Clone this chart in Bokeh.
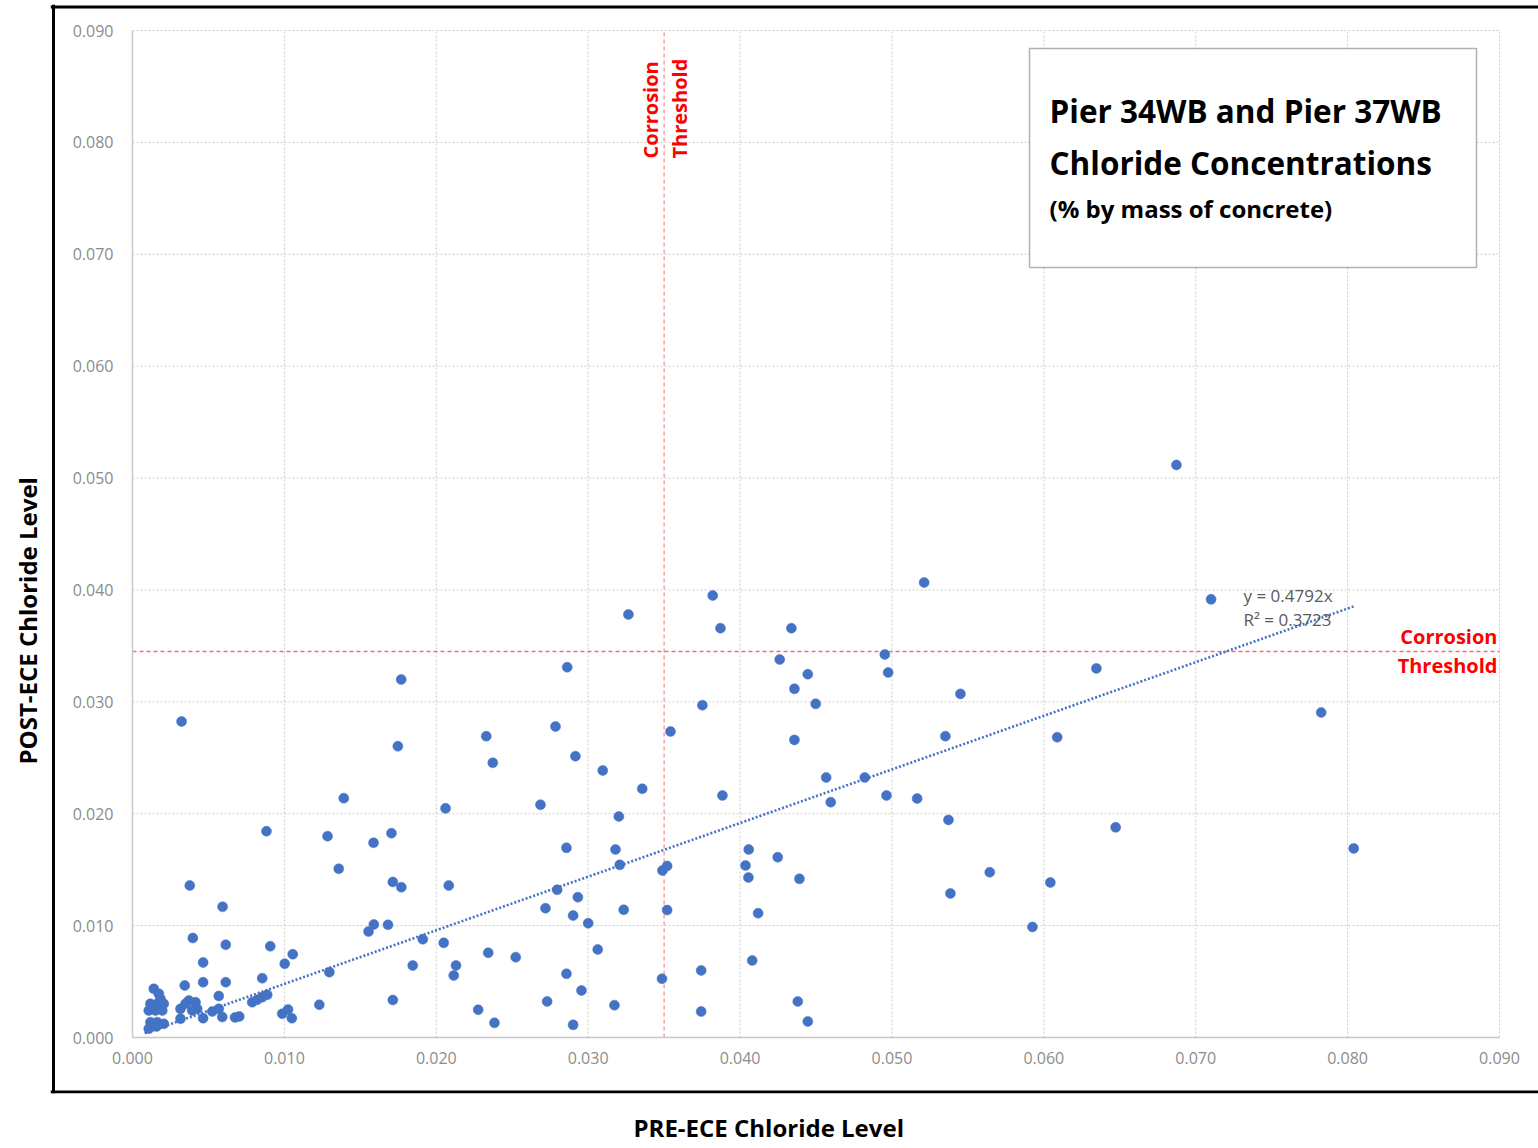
import math
from bokeh.plotting import figure
from bokeh.models import (Range1d, FixedTicker, NumeralTickFormatter, Span, Label, Title,
                          BoxAnnotation, ColumnDataSource, LinearAxis)
from bokeh.embed import file_html
from bokeh.resources import INLINE

# ---------------- data ----------------
pre_ece = [
    0.00140, 0.00173, 0.00184, 0.00118, 0.00163, 0.00206, 0.00107, 0.00151, 0.00196, 0.00118,
    0.00163, 0.00206, 0.00107, 0.00158,
    0.00323, 0.00377, 0.00397, 0.00344, 0.00349, 0.00371, 0.00415, 0.00426, 0.00316, 0.00393,
    0.00316, 0.00465, 0.00465, 0.00465, 0.00593, 0.00614, 0.00614, 0.00568, 0.00525, 0.00568,
    0.00591, 0.00675, 0.00703, 0.00788, 0.00821, 0.00854, 0.00887, 0.00854, 0.00882, 0.00907,
    0.01055, 0.01002, 0.00986, 0.01024, 0.01049, 0.01230, 0.01284, 0.01296, 0.01358, 0.01391,
    0.01554, 0.01589, 0.01587, 0.01682, 0.01705, 0.01714, 0.01714, 0.01747, 0.01769, 0.01770,
    0.01845, 0.01911, 0.02049, 0.02061, 0.02082, 0.02115, 0.02130, 0.02276, 0.02329, 0.02342,
    0.02372, 0.02383, 0.02523, 0.02686, 0.02719, 0.02730, 0.02785, 0.02796, 0.02862, 0.02857,
    0.02857, 0.02901, 0.02901, 0.02916, 0.02932, 0.02956, 0.03000, 0.03063, 0.03096, 0.03173,
    0.03180, 0.03202, 0.03208, 0.03234, 0.03265, 0.03356, 0.03486, 0.03489, 0.03520, 0.03520,
    0.03542, 0.03744, 0.03744, 0.03752, 0.03820, 0.03871, 0.03884, 0.04036, 0.04057, 0.04055,
    0.04080, 0.04119, 0.04248, 0.04261, 0.04338, 0.04358, 0.04358, 0.04380, 0.04391, 0.04446,
    0.04446, 0.04498, 0.04567, 0.04597, 0.04821, 0.04953, 0.04975, 0.04964, 0.05166, 0.05212,
    0.05352, 0.05372, 0.05385, 0.05451, 0.05644, 0.05925, 0.06043, 0.06088, 0.06346, 0.06473,
    0.06873, 0.07101, 0.07826, 0.08040,
]
post_ece = [
    0.00435, 0.00391, 0.00346, 0.00301, 0.00301, 0.00301, 0.00241, 0.00241, 0.00241, 0.00137,
    0.00137, 0.00122, 0.00078, 0.00098,
    0.02824, 0.01358, 0.00889, 0.00465, 0.00301, 0.00331, 0.00315, 0.00256, 0.00256, 0.00241,
    0.00167, 0.00172, 0.00494, 0.00670, 0.01168, 0.00829, 0.00494, 0.00371, 0.00232, 0.00256,
    0.00183, 0.00179, 0.00188, 0.00315, 0.00337, 0.00360, 0.00382, 0.00530, 0.01844, 0.00815,
    0.00744, 0.00659, 0.00212, 0.00250, 0.00172, 0.00293, 0.01799, 0.00584, 0.01508, 0.02139,
    0.00947, 0.01010, 0.01740, 0.01007, 0.01826, 0.01390, 0.00335, 0.02603, 0.03199, 0.01343,
    0.00643, 0.00878, 0.00846, 0.02048, 0.01358, 0.00554, 0.00643, 0.00248, 0.02693, 0.00757,
    0.02455, 0.00131, 0.00718, 0.02080, 0.01155, 0.00322, 0.02779, 0.01320, 0.03309, 0.01695,
    0.00569, 0.01090, 0.00113, 0.02514, 0.01254, 0.00420, 0.01021, 0.00786, 0.02386, 0.00289,
    0.01680, 0.01975, 0.01543, 0.01141, 0.03780, 0.02223, 0.00525, 0.01492, 0.01533, 0.01139,
    0.02735, 0.00599, 0.00232, 0.02970, 0.03950, 0.03658, 0.02163, 0.01537, 0.01680, 0.01430,
    0.00688, 0.01111, 0.01611, 0.03378, 0.03658, 0.03116, 0.02660, 0.00322, 0.01418, 0.03247,
    0.00143, 0.02982, 0.02324, 0.02103, 0.02324, 0.03423, 0.03262, 0.02163, 0.02136, 0.04066,
    0.02693, 0.01945, 0.01287, 0.03071, 0.01477, 0.00988, 0.01385, 0.02683, 0.03299, 0.01878,
    0.05117, 0.03916, 0.02905, 0.01690,
]
tick_values = [0.0, 0.01, 0.02, 0.03, 0.04, 0.05, 0.06, 0.07, 0.08, 0.09]
axis_min, axis_max = 0.0, 0.09
trend_slope = 0.4792
trend_r2 = 0.3723
trend_x = [0.0008, 0.0805]
threshold_pre = 0.035
threshold_post = 0.0345

title_lines = ["Pier 34WB and Pier 37WB", "Chloride Concentrations"]
subtitle = "(% by mass of concrete)"
x_title = "PRE-ECE Chloride Level"
y_title = "POST-ECE Chloride Level"

# ---------------- layout geometry (pixels) ----------------
W, H = 1538, 1148
FR_L, FR_T, FR_B, FR_R = 50, 4, 1093, 1538      # plot frame = black outer box
AX_L, AX_R, AX_B, AX_T = 132, 1499, 1037, 30    # where 0 .. 0.09 land
xpp = (axis_max - axis_min) / (AX_R - AX_L)
ypp = (axis_max - axis_min) / (AX_B - AX_T)
x_start = axis_min - (AX_L - FR_L) * xpp
x_end = axis_max + (FR_R - AX_R) * xpp
y_start = axis_min - (FR_B - AX_B) * ypp
y_end = axis_max + (AX_T - FR_T) * ypp

def px_x(px):
    return axis_min + (px - AX_L) * xpp

def px_y(py):
    return axis_min + (AX_B - py) * ypp

FONT = "Open Sans"
p = figure(width=W, height=H, output_backend="svg", toolbar_location=None,
           x_range=Range1d(x_start, x_end), y_range=Range1d(y_start, y_end),
           x_axis_location=None, y_axis_location=None,
           min_border_left=FR_L, min_border_right=W - FR_R, min_border_top=FR_T,
           min_border_bottom=H - FR_B)
p.outline_line_color = None
p.background_fill_color = "white"
p.border_fill_color = "white"
for g in p.grid:
    g.visible = False

# gridlines (dotted) at the tick values
inner = tick_values[1:]
p.segment(x0=inner, y0=[axis_min] * len(inner), x1=inner, y1=[axis_max] * len(inner),
          line_color="#cccccc", line_width=1, line_dash="2 2")
p.segment(x0=[axis_min] * len(inner), y0=inner, x1=[axis_max] * len(inner), y1=inner,
          line_color="#cccccc", line_width=1, line_dash="2 2")

# axes with ticks, fixed at the data origin
def style_tick_axis(ax):
    ax.ticker = FixedTicker(ticks=tick_values)
    ax.formatter = NumeralTickFormatter(format="0.000")
    ax.bounds = (axis_min, axis_max)
    ax.fixed_location = 0
    ax.major_tick_line_color = None
    ax.minor_tick_line_color = None
    ax.major_tick_out = 0
    ax.major_tick_in = 0
    ax.minor_tick_out = 0
    ax.axis_line_color = "#c8c8c8"
    ax.axis_line_width = 1.5
    ax.major_label_text_font = FONT
    ax.major_label_text_font_size = "16px"
    ax.major_label_text_color = "#8c8c8c"

xax = LinearAxis()
style_tick_axis(xax)
xax.major_label_standoff = 14
yax = LinearAxis()
style_tick_axis(yax)
yax.major_label_standoff = 19
p.add_layout(xax, "below")
p.add_layout(yax, "left")

# axis titles (side-panel titles, outside the black box)
title_kw = dict(text_font=FONT, text_font_size="24px", text_font_style="bold",
                text_color="black", align="left", vertical_align="bottom")
p.add_layout(Title(text=" ", text_font_size="4px", standoff=8), "below")   # small gap
p.add_layout(Title(text=x_title, offset=633 - FR_L, standoff=0, **title_kw), "below")
p.add_layout(Title(text=y_title, offset=FR_B - 764, standoff=13, **title_kw), "left")

# black outer box (left, top, bottom edges)
box_kw = dict(line_color="black", line_width=3)
p.add_layout(Span(location=px_x(53), dimension="height", **box_kw))
p.add_layout(Span(location=px_y(6.5), dimension="width", **box_kw))
p.add_layout(Span(location=px_y(1091.5), dimension="width", **box_kw))

# threshold lines
p.segment(x0=[threshold_pre], y0=[axis_min], x1=[threshold_pre], y1=[axis_max],
          line_color="#ff5c5c", line_alpha=0.75, line_dash="4 3", line_width=1.2)
p.segment(x0=[axis_min], y0=[threshold_post], x1=[axis_max], y1=[threshold_post],
          line_color="#ff5050", line_alpha=0.85, line_dash="4 3", line_width=1.3)

# points
src = ColumnDataSource(dict(x=pre_ece, y=post_ece))
p.scatter("x", "y", source=src, size=10, marker="circle",
          fill_color="#4472c4", line_color="#4472c4", line_width=0.5)

# trendline
trend_y = [trend_slope * v for v in trend_x]
p.line(trend_x, trend_y, line_color="#4472c4", line_width=2.6, line_dash="2 2")

# trend equation
p.add_layout(Label(x=px_x(1243), y=px_y(595), text=f"y = {trend_slope}x", text_font=FONT,
                   text_font_size="17px", text_color="#595959", text_baseline="middle"))
p.add_layout(Label(x=px_x(1243), y=px_y(619), text=f"R\u00b2 = {trend_r2}", text_font=FONT,
                   text_font_size="17px", text_color="#595959", text_baseline="middle"))

# threshold captions
for xpx, txt in ((650, "Corrosion"), (679, "Threshold")):
    p.add_layout(Label(x=px_x(xpx), y=px_y(158), text=txt, angle=math.pi / 2, text_font=FONT,
                       text_font_size="20px", text_font_style="bold", text_color="#ff0000",
                       text_align="left", text_baseline="middle"))
for ypx, txt in ((636, "Corrosion"), (665, "Threshold")):
    p.add_layout(Label(x=px_x(1497), y=px_y(ypx), text=txt, text_font=FONT,
                       text_font_size="20px", text_font_style="bold", text_color="#ff0000",
                       text_align="right", text_baseline="middle"))

# title box
p.add_layout(BoxAnnotation(left=px_x(1029), right=px_x(1476), top=px_y(48), bottom=px_y(267),
                           fill_color="white", fill_alpha=1.0, line_color="black",
                           line_width=1.5))
p.add_layout(Label(x=px_x(1049), y=px_y(110), text=title_lines[0], text_font=FONT,
                   text_font_size="31.5px", text_font_style="bold", text_color="black",
                   text_baseline="middle"))
p.add_layout(Label(x=px_x(1049), y=px_y(162), text=title_lines[1], text_font=FONT,
                   text_font_size="31.5px", text_font_style="bold", text_color="black",
                   text_baseline="middle"))
p.add_layout(Label(x=px_x(1049), y=px_y(208), text=subtitle, text_font=FONT,
                   text_font_size="24px", text_font_style="bold", text_color="black",
                   text_baseline="middle"))

open("out.html", "w").write(file_html(p, INLINE))
